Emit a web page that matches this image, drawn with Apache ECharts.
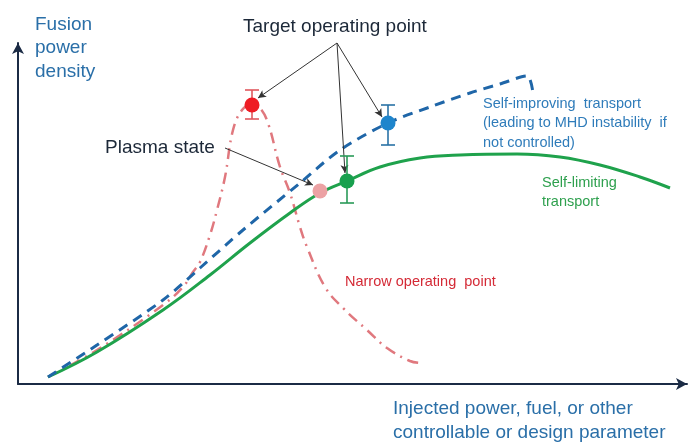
<!DOCTYPE html>
<html><head><meta charset="utf-8">
<script src="https://cdn.jsdelivr.net/npm/echarts@6/dist/echarts.min.js"></script>
<style>html,body{margin:0;padding:0;background:#fff}#c{width:693px;height:446px}</style>
</head><body><div id="c"></div>
<script>
// Values in chart units (x: controllable parameter, y: fusion power density)
const selfLimiting = [[30,7],[79,32],[145,74],[192,109],[232,141],[272,171],[302,191],[329,203],[362,217],[402,226],[442,229],[499,230],[542,227],[582,219],[622,207],[652,196]];
const selfImproving = [[30,7],[79,39],[145,84],[182,116],[225,154],[282,201],[322,234],[370,261],[412,277],[452,291],[482,300],[509,308],[515,291]];
const narrowPoint = [[30,7],[79,34],[145,79],[165,97],[175,112],[182,122],[192,149],[199,174],[207,207],[215,254],[224,274],[234,280],[242,276],[250,261],[262,217],[272,191],[282,157],[289,137],[307,97],[325,76],[349,54],[369,36],[392,23],[402,21]];
// target points [x, y, errLow, errHigh]
const targetRed = [234, 279, 265, 294];
const targetBlue = [370, 261, 239, 279];
const targetGreen = [329, 203, 181, 228];
const plasmaState = [302, 193];
// annotation arrows [from, to]
const targetArrows = [[[319,341],[240,286]],[[319,341],[364,267]],[[319,341],[327,211]]];
const plasmaArrow = [[207,236],[295,199]];

const FONT = 'Arial, "Liberation Sans", sans-serif';
const chart = echarts.init(document.getElementById('c'), null, {renderer:'canvas'});

function errBar(pt, color){
  return {type:'custom', z:5, data:[[pt[0], pt[2], pt[3]]], silent:true,
    renderItem:function(params, api){
      const lo = api.coord([api.value(0), api.value(1)]);
      const hi = api.coord([api.value(0), api.value(2)]);
      const w = 7;
      const st = {stroke:color, lineWidth:1.6};
      return {type:'group', children:[
        {type:'line', shape:{x1:lo[0],y1:lo[1],x2:hi[0],y2:hi[1]}, style:st},
        {type:'line', shape:{x1:lo[0]-w,y1:lo[1],x2:lo[0]+w,y2:lo[1]}, style:st},
        {type:'line', shape:{x1:hi[0]-w,y1:hi[1],x2:hi[0]+w,y2:hi[1]}, style:st}
      ]};
    }};
}
function arrowLines(list){
  return list.map(a => [{coord:a[0]},{coord:a[1]}]);
}

const axisCommon = {type:'value', splitLine:{show:false}, axisTick:{show:false}, axisLabel:{show:false},
  axisLine:{show:true, onZero:false, symbol:['none','arrow'], symbolSize:[9,11], lineStyle:{color:'#1b2b45', width:2}}};

chart.setOption({
  animation:false,
  grid:{left:18, right:6, top:43, bottom:62},
  xAxis:Object.assign({min:0, max:669}, axisCommon),
  yAxis:Object.assign({min:0, max:341}, axisCommon),
  series:[
    {type:'line', data:narrowPoint, smooth:0.4, symbol:'none', z:2,
      lineStyle:{color:'#e0787e', width:2.5, type:[11,6,2,6]}},
    {type:'line', data:selfLimiting, smooth:0.4, symbol:'none', z:3,
      lineStyle:{color:'#1fa24c', width:3}},
    {type:'line', data:selfImproving, smooth:0.3, symbol:'none', z:3,
      lineStyle:{color:'#1f66a8', width:3, type:[10,7]},
      markLine:{silent:true, symbol:['none','arrow'], symbolSize:[6,8], label:{show:false},
        lineStyle:{color:'#333', width:1, type:'solid'},
        data:arrowLines(targetArrows).concat(arrowLines([plasmaArrow]))}},
    errBar(targetRed, '#e0585e'),
    errBar(targetBlue, '#2a72a6'),
    errBar(targetGreen, '#2a9a58'),
    {type:'scatter', z:10, symbolSize:15, data:[targetRed.slice(0,2)], itemStyle:{color:'#ee1c24', opacity:1}},
    {type:'scatter', z:10, symbolSize:15, data:[targetBlue.slice(0,2)], itemStyle:{color:'#1e85cc', opacity:1}},
    {type:'scatter', z:10, symbolSize:15, data:[targetGreen.slice(0,2)], itemStyle:{color:'#18a04e', opacity:1}},
    {type:'scatter', z:9, symbolSize:15, data:[plasmaState], itemStyle:{color:'#eca2a4', opacity:1}}
  ],
  graphic:[
    {type:'text', left:35, top:13, style:{text:'Fusion\npower\ndensity', font:'19px '+FONT, fill:'#2a6fa8', lineHeight:23.5}},
    {type:'text', left:243, top:16, style:{text:'Target operating point', font:'19px '+FONT, fill:'#1c2838', lineHeight:22}},
    {type:'text', left:105, top:137, style:{text:'Plasma state', font:'19px '+FONT, fill:'#1c2838', lineHeight:22}},
    {type:'text', left:483, top:94, style:{text:'Self-improving  transport\n(leading to MHD instability  if\nnot controlled)', font:'14.5px '+FONT, fill:'#2f7cba', lineHeight:19.5}},
    {type:'text', left:542, top:174, style:{text:'Self-limiting\ntransport', font:'14.5px '+FONT, fill:'#2ea04e', lineHeight:18.5}},
    {type:'text', left:345, top:273, style:{text:'Narrow operating  point', font:'14.5px '+FONT, fill:'#d42a36', lineHeight:18}},
    {type:'text', left:393, top:397, style:{text:'Injected power, fuel, or other\ncontrollable or design parameter', font:'19px '+FONT, fill:'#2a6fa8', lineHeight:24}}
  ]
});
</script></body></html>
